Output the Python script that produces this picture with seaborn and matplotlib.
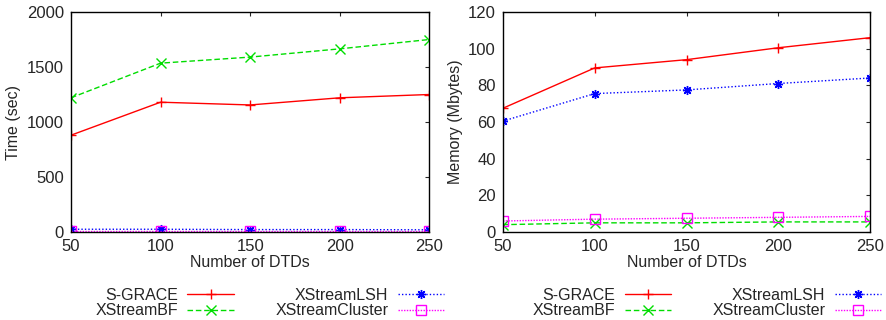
import matplotlib
matplotlib.use("Agg")
import matplotlib.pyplot as plt
import pandas as pd
import seaborn as sns

# Data
dtds = [50, 100, 150, 200, 250]
series = ["S-GRACE", "XStreamBF", "XStreamLSH", "XStreamCluster"]

time_sgrace = [880, 1180, 1155, 1220, 1250]
time_bf = [1220, 1535, 1590, 1665, 1750]
time_lsh = [25, 25, 22, 22, 20]
time_cluster = [5, 5, 5, 5, 5]

mem_sgrace = [67.5, 89.5, 94, 100.5, 106]
mem_bf = [4, 5, 5, 5.5, 5.5]
mem_lsh = [60.5, 75.5, 77.5, 81, 84]
mem_cluster = [6, 7, 7.5, 8, 8.5]

styles = {
    "S-GRACE": dict(color="#ff0000", ls="-", marker="+"),
    "XStreamBF": dict(color="#00dd00", ls=(0, (4, 2)), marker="x"),
    "XStreamLSH": dict(color="#0000ff", ls=(0, (1, 1.5)), marker=(8, 2, 0)),
    "XStreamCluster": dict(color="#ff00ff", ls=(0, (1, 1)), marker="s"),
}


def to_long(vals):
    rows = []
    for name, v in zip(series, vals):
        for x, y in zip(dtds, v):
            rows.append({"dtds": x, "value": y, "series": name})
    return pd.DataFrame(rows)


df_time = to_long([time_sgrace, time_bf, time_lsh, time_cluster])
df_mem = to_long([mem_sgrace, mem_bf, mem_lsh, mem_cluster])

sns.set_style("white")
plt.rcParams["font.family"] = ["Liberation Sans", "DejaVu Sans"]
plt.rcParams["xtick.direction"] = "in"
plt.rcParams["ytick.direction"] = "in"

fig = plt.figure(figsize=(8.87, 3.2), dpi=100)
ax1 = fig.add_axes([0.080, 0.275, 0.404, 0.6875])
ax2 = fig.add_axes([0.567, 0.275, 0.414, 0.6875])


def draw(ax, df, ylim, yticks, ylabel, legend_x):
    for name in series:
        st = styles[name]
        sub = df[df["series"] == name]
        sns.lineplot(data=sub, x="dtds", y="value", ax=ax, color=st["color"],
                     linestyle=st["ls"], marker=st["marker"], markersize=6.5,
                     markeredgewidth=1.0, markerfacecolor="none",
                     markeredgecolor=st["color"], linewidth=1.0, label=name)
    ax.set_xlim(50, 250)
    ax.set_ylim(*ylim)
    ax.set_xticks(dtds)
    ax.set_yticks(yticks)
    ax.set_xlabel("Number of DTDs", fontsize=11.5, labelpad=1)
    ax.set_ylabel(ylabel, fontsize=11.5)
    ax.tick_params(labelsize=12, top=True, right=True, length=3, width=0.8, pad=5)
    for s in ax.spines.values():
        s.set_color("black")
        s.set_linewidth(1.0)
    ax.get_legend().remove()
    handles, labels = ax.get_legend_handles_labels()
    fig.legend(handles, labels,
               loc="center", bbox_to_anchor=(legend_x, 0.053), ncol=2,
               frameon=False, markerfirst=False, fontsize=11.5,
               handlelength=2.9, columnspacing=2.6, labelspacing=0.05,
               handletextpad=0.6)


draw(ax1, df_time, (0, 2000), [0, 500, 1000, 1500, 2000], "Time (sec)", 0.304)
draw(ax2, df_mem, (0, 120), [0, 20, 40, 60, 80, 100, 120], "Memory (Mbytes)", 0.797)

fig.savefig("out.png", dpi=100)
